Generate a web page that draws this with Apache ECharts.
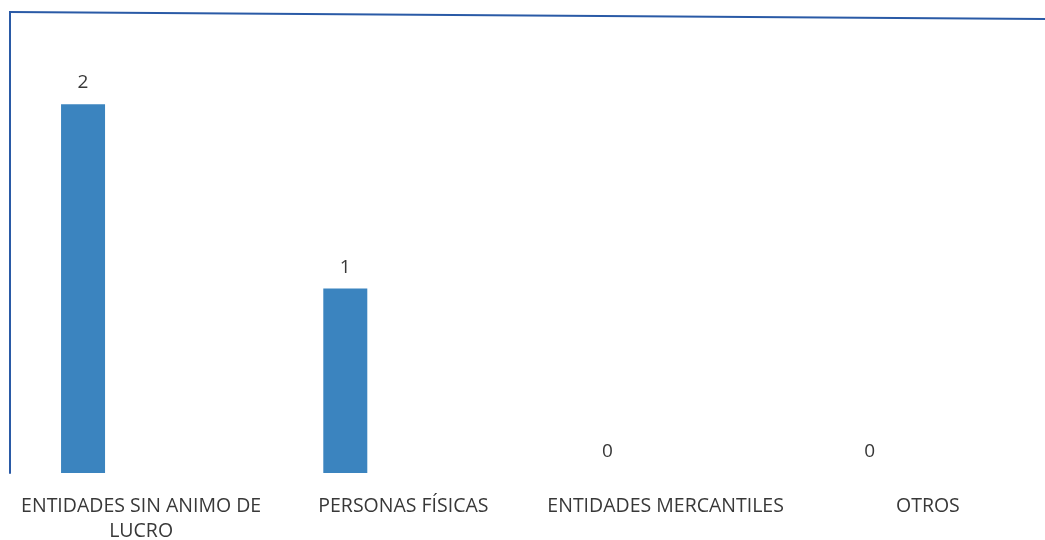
<!DOCTYPE html>
<html>
<head>
<meta charset="utf-8">
<script src="https://cdn.jsdelivr.net/npm/echarts@6/dist/echarts.min.js"></script>
<style>
  html, body { margin: 0; padding: 0; background: #fff; }
  #main { width: 1045px; height: 540px; }
</style>
</head>
<body>
<div id="main"></div>
<script>
// categorias y valores
var categorias = ['ENTIDADES SIN ANIMO DE\nLUCRO', 'PERSONAS FÍSICAS', 'ENTIDADES MERCANTILES', 'OTROS'];
var valores = [2, 1, 0, 0];

var azul = '#3b84bf';
var marco = '#2a5aa6';

var myChart = echarts.init(document.getElementById('main'));

var option = {
	backgroundColor : '#fff',
	animation : false,
	grid : {
		left : 10,
		top : 12,
		bottom : 67,
		width : 1049,
		outerBoundsMode : 'none'
	},
	xAxis : {
		type : 'category',
		data : categorias,
		axisLine : { show : false },
		axisTick : { show : false },
		axisLabel : {
			interval : 0,
			margin : 21,
			color : '#383838',
			fontFamily : 'Open Sans',
			fontSize : 19.5,
			lineHeight : 25
		}
	},
	yAxis : {
		type : 'value',
		min : 0,
		max : 2.5,
		axisLabel : { show : false },
		axisTick : { show : false },
		splitLine : { show : false },
		axisLine : {
			show : true,
			lineStyle : { color : marco, width : 2 }
		}
	},
	series : [ {
		name : 'Serie 1',
		type : 'bar',
		data : valores,
		barWidth : 44,
		barGap : '32%',
		itemStyle : { color : azul },
		label : {
			show : true,
			position : 'top',
			distance : 12,
			color : '#383838',
			fontFamily : 'Open Sans',
			fontSize : 19
		}
	},
	// series vacias (como en la hoja original) que desplazan la barra a la izquierda
	{ name : 'Serie 2', type : 'bar', data : [], barWidth : 44 },
	{ name : 'Serie 3', type : 'bar', data : [], barWidth : 44 } ],
	graphic : [ {
		type : 'line',
		shape : { x1 : 9, y1 : 12, x2 : 1045, y2 : 19 },
		style : { stroke : marco, lineWidth : 2 }
	} ]
};

myChart.setOption(option);
</script>
</body>
</html>
